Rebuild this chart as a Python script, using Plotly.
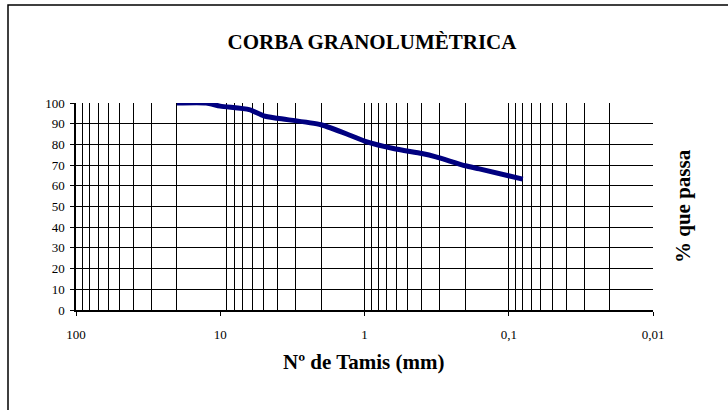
import plotly.graph_objects as go

# Data
sieve_mm = [20, 12.5, 10, 6.3, 5, 4, 2, 1.25, 1, 0.63, 0.4, 0.32, 0.2, 0.16, 0.08]
pct_passing = [100, 100, 98.5, 96.8, 93.8, 92.6, 89.5, 84.3, 81.6, 78.0, 75.6, 74.0, 69.7, 68.2, 63.2]

x_tickvals = [100, 10, 1, 0.1, 0.01]
x_ticktext = ["100", "10", "1", "0,1", "0,01"]
y_tickvals = [0, 10, 20, 30, 40, 50, 60, 70, 80, 90, 100]

title_text = "CORBA GRANOLUMÈTRICA"
x_title = "Nº de Tamis (mm)"
y_title = "% que passa"

# vertical grid: 2..9 in every decade plus 1 and 0.1 (Excel omits the 10 line)
x_grid = [m * 10.0 ** e for e in (1, 0, -1, -2) for m in range(2, 10)] + [1, 0.1]
y_grid = [v for v in y_tickvals if 0 < v < 100]

FONT = "Liberation Serif"

fig = go.Figure()
fig.add_trace(go.Scatter(
    x=sieve_mm, y=pct_passing, mode="lines",
    line=dict(color="#000080", width=5, shape="spline", smoothing=0.6),
    showlegend=False, hoverinfo="skip",
))

fig.update_layout(
    width=728, height=410,
    margin=dict(l=76, r=75, t=103, b=100),
    paper_bgcolor="white", plot_bgcolor="white",
    font=dict(family=FONT, color="black", size=13),
    title=dict(text="<b>" + title_text + "</b>", x=372 / 728, xanchor="center",
               y=1 - 42 / 410, yanchor="middle",
               font=dict(family=FONT, size=21, color="black")),
)

fig.update_xaxes(
    type="log", range=[2, -2],
    tickvals=x_tickvals, ticktext=x_ticktext,
    ticks="outside", ticklen=4, tickcolor="black", tickwidth=1,
    ticklabelstandoff=8,
    showline=True, linecolor="black", linewidth=1.5,
    showgrid=False, zeroline=False,
    minor=dict(tickvals=x_grid, showgrid=True, gridcolor="black", gridwidth=1, ticks=""),
    tickfont=dict(family=FONT, size=13, color="black"),
)
fig.update_yaxes(
    range=[0, 100], tickvals=y_tickvals,
    ticks="outside", ticklen=4, tickcolor="black", tickwidth=1,
    ticklabelstandoff=3,
    showline=True, linecolor="black", linewidth=1.5,
    showgrid=False, zeroline=False,
    minor=dict(tickvals=y_grid, showgrid=True, gridcolor="black", gridwidth=1, ticks=""),
    tickfont=dict(family=FONT, size=13, color="black"),
)

fig.add_annotation(text="<b>" + x_title + "</b>", xref="paper", yref="paper",
                   x=(364 - 76) / 577, y=(310 - 362) / 207, xanchor="center", yanchor="middle",
                   showarrow=False, font=dict(family=FONT, size=21, color="black"))
fig.add_annotation(text="<b>" + y_title + "</b>", xref="paper", yref="paper",
                   x=(683 - 76) / 577, y=(310 - 206) / 207, xanchor="center", yanchor="middle",
                   textangle=-90, showarrow=False, font=dict(family=FONT, size=21, color="black"))

# chart-area border (left and top edges visible in the frame)
fig.add_shape(type="rect", xref="paper", yref="paper",
              x0=(8 - 76) / 577, x1=(760 - 76) / 577,
              y0=(310 - 440) / 207, y1=(310 - 5) / 207,
              line=dict(color="black", width=1.5), fillcolor="rgba(0,0,0,0)", layer="below")

fig.write_html("out.html")
